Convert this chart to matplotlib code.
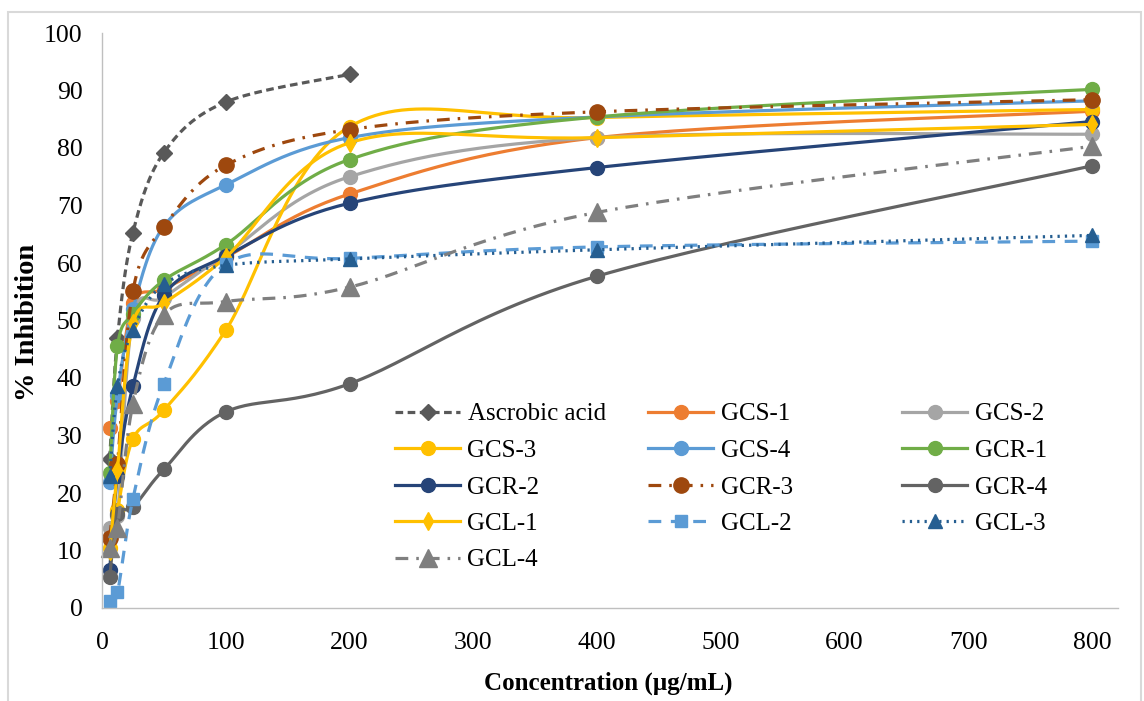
import numpy as np
import matplotlib
matplotlib.use('Agg')
import matplotlib.pyplot as plt
from matplotlib.lines import Line2D
from matplotlib.patches import Rectangle

plt.rcParams['font.family'] = ['Liberation Serif', 'DejaVu Serif']

# concentrations (ug/mL)
conc = [6.25, 12.5, 25, 50, 100, 200, 400, 800]
conc_asc = [6.25, 12.5, 25, 50, 100, 200]

# % inhibition
ascorbic = [26, 47, 65.3, 79.2, 88, 92.8]
gcs1 = [31.3, 36, 53, 55.5, 61, 72, 81.8, 86.4]
gcs2 = [14, 16, 50.5, 54, 61.5, 75, 81.8, 82.4]
gcs3 = [10.5, 17, 29.4, 34.4, 48.3, 83.7, 85.3, 86.7]
gcs4 = [22, 37, 52, 66.4, 73.6, 81.8, 85.4, 88.2]
gcr1 = [23.5, 45.5, 51.2, 57, 63.2, 78, 85.4, 90.2]
gcr2 = [6.6, 23, 38.6, 54.4, 61.2, 70.4, 76.6, 84.6]
gcr3 = [12.2, 25, 55.2, 66.3, 77, 83.2, 86.3, 88.4]
gcr4 = [5.4, 16.3, 17.5, 24.1, 34.1, 39, 57.7, 76.9]
gcl1 = [10, 24, 49.5, 53, 61, 80.9, 81.8, 84.1]
gcl2 = [1.2, 2.7, 19, 39, 59.8, 60.8, 62.8, 63.8]
gcl3 = [23, 38.6, 48.4, 56.3, 59.6, 60.7, 62.3, 64.8]
gcl4 = [10.5, 14, 35.5, 51, 53.3, 55.8, 68.8, 80.3]

XMAX = 821
SX = 990 / 800.0   # px per x unit (for smoothing like excel)
SY = 575 / 100.0


def smooth(xs, ys, n=30):
    # catmull-rom through the points, done in pixel space
    p = np.column_stack([np.array(xs) * SX, np.array(ys) * SY])
    out = [p[0]]
    for i in range(len(p) - 1):
        p0 = p[i - 1] if i > 0 else p[i]
        p1 = p[i]
        p2 = p[i + 1]
        p3 = p[i + 2] if i + 2 < len(p) else p[i + 1]
        c1 = p1 + (p2 - p0) / 6.0
        c2 = p2 - (p3 - p1) / 6.0
        t = np.linspace(0, 1, n)[1:, None]
        seg = (1 - t)**3 * p1 + 3 * (1 - t)**2 * t * c1 + 3 * (1 - t) * t**2 * c2 + t**3 * p2
        out.extend(seg)
    out = np.array(out)
    return out[:, 0] / SX, out[:, 1] / SY


series = [
    ('Ascrobic acid', conc_asc, ascorbic, '#595959', (0, (2.4, 1.4)), 'D', 8),
    ('GCS-1', conc, gcs1, '#ED7D31', '-', 'o', 10),
    ('GCS-2', conc, gcs2, '#A5A5A5', '-', 'o', 10),
    ('GCS-3', conc, gcs3, '#FFC000', '-', 'o', 10),
    ('GCS-4', conc, gcs4, '#5B9BD5', '-', 'o', 10),
    ('GCR-1', conc, gcr1, '#70AD47', '-', 'o', 10),
    ('GCR-2', conc, gcr2, '#264478', '-', 'o', 10),
    ('GCR-3', conc, gcr3, '#9E480E', (0, (4, 2.5, 0.8, 2.5)), 'o', 11),
    ('GCR-4', conc, gcr4, '#636363', '-', 'o', 10),
    ('GCL-1', conc, gcl1, '#FFC000', '-', 'd', 9),
    ('GCL-2', conc, gcl2, '#5B9BD5', (0, (4, 3)), 's', 9),
    ('GCL-3', conc, gcl3, '#255E91', (0, (0.7, 1.6)), '^', 10),
    ('GCL-4', conc, gcl4, '#7F7F7F', (0, (4, 2.5, 0.8, 2.5)), '^', 13),
]

fig = plt.figure(figsize=(11.44, 7.01), dpi=100)
ax = fig.add_axes([102 / 1144, (701 - 608) / 701, (1118 - 102) / 1144, (608 - 33) / 701])

handles = []
for name, xs, ys, col, ls, mk, ms in series:
    sx, sy = smooth(xs, ys)
    ax.plot(sx, sy, color=col, linestyle=ls, linewidth=2.3, clip_on=False)
    ax.plot(xs, ys, linestyle='none', marker=mk, markersize=ms, color=col,
            markeredgecolor=col, clip_on=False)
    handles.append(Line2D([], [], color=col, linestyle=ls, linewidth=2.3,
                          marker=mk, markersize=ms, markeredgecolor=col, label=name))

ax.set_xlim(0, XMAX)
ax.set_ylim(0, 100)
ax.set_xticks(range(0, 801, 100))
ax.set_yticks(range(0, 101, 10))
ax.tick_params(length=0, labelsize=18.5)
ax.tick_params(axis='x', pad=17)
ax.tick_params(axis='y', pad=14)
for s in ['top', 'right']:
    ax.spines[s].set_visible(False)
ax.spines['left'].set_color('#BFBFBF')
ax.spines['bottom'].set_color('#BFBFBF')
ax.spines['left'].set_linewidth(1)
ax.spines['bottom'].set_linewidth(1)

ax.set_xlabel('Concentration (µg/mL)', fontsize=18, fontweight='bold')
ax.set_ylabel('% Inhibition', fontsize=20.5, fontweight='bold')
ax.xaxis.set_label_coords((608 - 102) / 1016, (608 - 683) / 575)
ax.yaxis.set_label_coords((28 - 102) / 1016, (608 - 322) / 575)
ax.xaxis.label.set_va('center')
ax.yaxis.label.set_va('center')

# legend in three columns like excel
col_x = [395, 648, 902]
for c in range(3):
    hs = handles[c::3]
    leg = fig.legend(handles=hs, loc='upper left',
                     bbox_to_anchor=(col_x[c] / 1144, 1 - 403 / 701),
                     frameon=False, fontsize=18, handlelength=2.6,
                     handletextpad=0.3, labelspacing=0.56, borderpad=0,
                     borderaxespad=0)

# light border round the chart
fig.patches.append(Rectangle((8 / 1144, -0.01), 1133 / 1144, 1 - 12 / 701 + 0.01,
                             transform=fig.transFigure, fill=False,
                             edgecolor='#D9D9D9', linewidth=1.5))

fig.savefig('out.png', dpi=100)
